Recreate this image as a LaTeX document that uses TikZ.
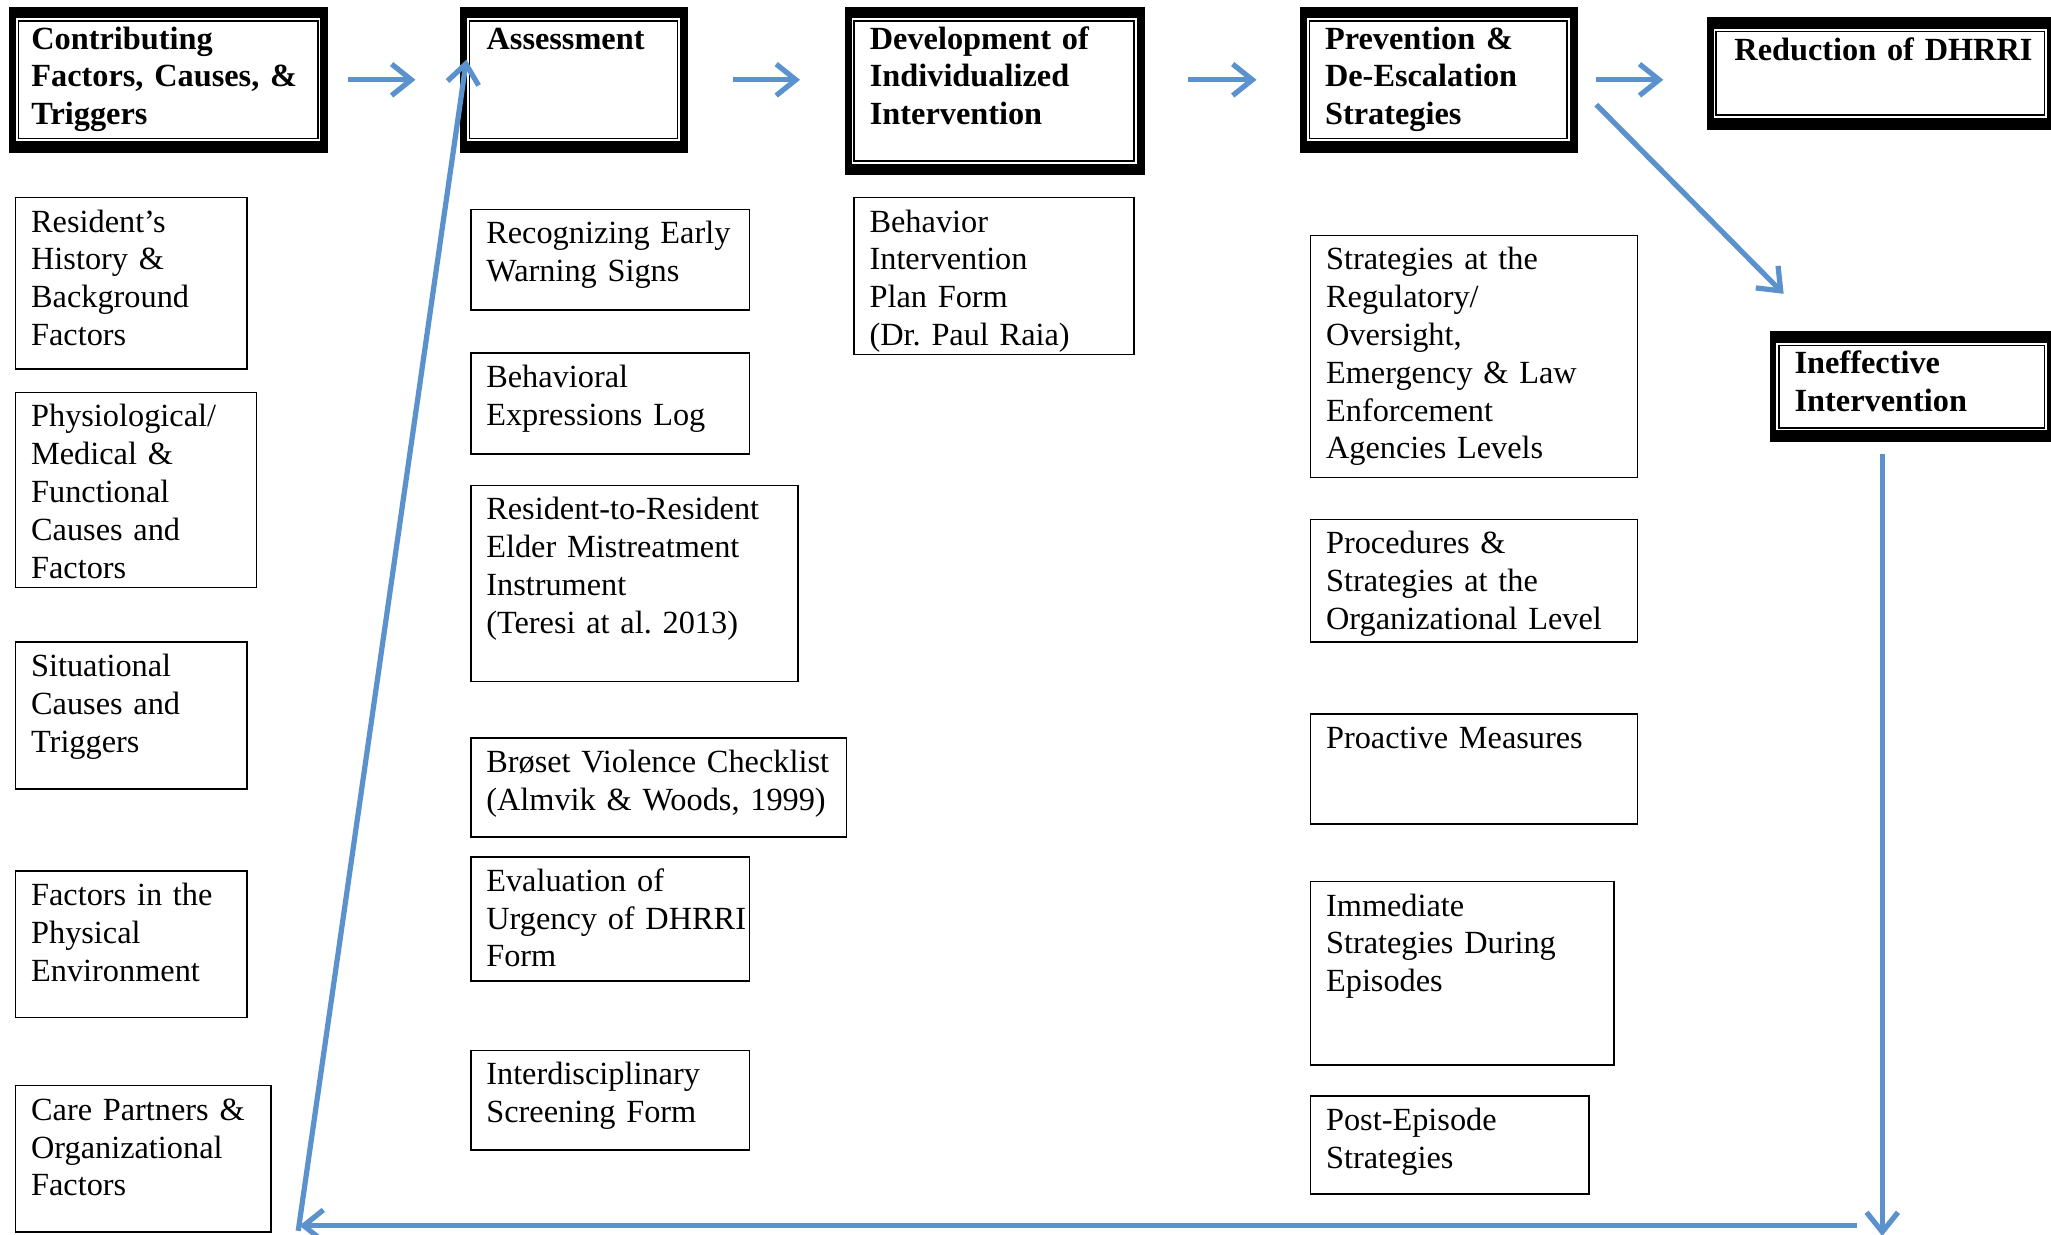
\documentclass[tikz,border=0pt]{standalone}
\usepackage{fontspec}
\setmainfont{Liberation Serif}
\usetikzlibrary{arrows.meta,fit}
\definecolor{arrblue}{RGB}{91,146,205}
\begin{document}
\frenchspacing
\begin{tikzpicture}[x=0.5bp,y=-0.5bp,
  thinbox/.style={draw=black, line width=0.6bp, inner sep=0},
  hdr/.style={inner sep=0, fill=black, path picture={
      \fill[white] ([shift={(5,9)}]path picture bounding box.north west) rectangle ([shift={(-6,-9)}]path picture bounding box.south east);
      \draw[black, line width=0.6bp] ([shift={(7,11)}]path picture bounding box.north west) rectangle ([shift={(-8,-11)}]path picture bounding box.south east);
  }},
  txt/.style={anchor=base west, inner sep=0, align=left, text width=300bp, font=\fontsize{12.4}{14.5}\selectfont},
  htxt/.style={anchor=base west, inner sep=0, align=left, text width=300bp, font=\fontsize{12.4}{14.5}\selectfont\bfseries},
  arr/.style={draw=arrblue, line width=2bp, -{Straight Barb[length=7.5bp,width=12bp]}}
]
\useasboundingbox (0,0) rectangle (1568,944);

% header boxes
\node[hdr, fit={(7,5)(251,117)}] (hC) {};
\node[htxt] (hCt) at ([shift={(17,33)}]hC.north west) {Contributing\\Factors, Causes, \&\\Triggers};
\node[hdr, fit={(352,5)(526,117)}] (hA) {};
\node[htxt] (hAt) at ([shift={(20,33)}]hA.north west) {Assessment};
\node[hdr, fit={(646,5)(875,134)}] (hD) {};
\node[htxt] (hDt) at ([shift={(19,33)}]hD.north west) {Development of\\Individualized\\Intervention};
\node[hdr, fit={(994,5)(1206,117)}] (hP) {};
\node[htxt] (hPt) at ([shift={(19,33)}]hP.north west) {Prevention \&\\De-Escalation\\Strategies};
\node[hdr, fit={(1305,13)(1571,99)}] (hR) {};
\node[htxt] (hRt) at ([shift={(21,34)}]hR.north west) {Reduction of DHRRI};
\node[hdr, fit={(1353,253)(1571,338)}] (hI) {};
\node[htxt] (hIt) at ([shift={(19,33)}]hI.north west) {Ineffective\\Intervention};

% left column
\node[thinbox, fit={(12,151)(189,282)}] (b1) {};
\node[txt] (b1t) at ([shift={(12,27)}]b1.north west) {Resident’s\\History \&\\Background\\Factors};
\node[thinbox, fit={(12,300)(196,449)}] (b2) {};
\node[txt] (b2t) at ([shift={(12,27)}]b2.north west) {Physiological/\\Medical \&\\Functional\\Causes and\\Factors};
\node[thinbox, fit={(12,491)(189,603)}] (b3) {};
\node[txt] (b3t) at ([shift={(12,27)}]b3.north west) {Situational\\Causes and\\Triggers};
\node[thinbox, fit={(12,666)(189,778)}] (b4) {};
\node[txt] (b4t) at ([shift={(12,27)}]b4.north west) {Factors in the\\Physical\\Environment};
\node[thinbox, fit={(12,830)(207,942)}] (b5) {};
\node[txt] (b5t) at ([shift={(12,27)}]b5.north west) {Care Partners \&\\Organizational\\Factors};

% assessment column
\node[thinbox, fit={(360,160)(573,237)}] (a1) {};
\node[txt] (a1t) at ([shift={(12,27)}]a1.north west) {Recognizing Early\\Warning Signs};
\node[thinbox, fit={(360,270)(573,347)}] (a2) {};
\node[txt] (a2t) at ([shift={(12,27)}]a2.north west) {Behavioral\\Expressions Log};
\node[thinbox, fit={(360,371)(610,521)}] (a3) {};
\node[txt] (a3t) at ([shift={(12,27)}]a3.north west) {Resident-to-Resident\\Elder Mistreatment\\Instrument\\(Teresi at al. 2013)};
\node[thinbox, fit={(360,564)(647,640)}] (a4) {};
\node[txt] (a4t) at ([shift={(12,27)}]a4.north west) {Brøset Violence Checklist\\(Almvik \& Woods, 1999)};
\node[thinbox, fit={(360,655)(573,750)}] (a5) {};
\node[txt] (a5t) at ([shift={(12,27)}]a5.north west) {Evaluation of\\Urgency of DHRRI\\Form};
\node[thinbox, fit={(360,803)(573,879)}] (a6) {};
\node[txt] (a6t) at ([shift={(12,27)}]a6.north west) {Interdisciplinary\\Screening Form};

% development column
\node[thinbox, fit={(653,151)(867,271)}] (d1) {};
\node[txt] (d1t) at ([shift={(12,27)}]d1.north west) {Behavior\\Intervention\\Plan Form\\(Dr. Paul Raia)};

% prevention column
\node[thinbox, fit={(1002,180)(1252,365)}] (p1) {};
\node[txt] (p1t) at ([shift={(12,27)}]p1.north west) {Strategies at the\\Regulatory/\\Oversight,\\Emergency \& Law\\Enforcement\\Agencies Levels};
\node[thinbox, fit={(1002,397)(1252,491)}] (p2) {};
\node[txt] (p2t) at ([shift={(12,27)}]p2.north west) {Procedures \&\\Strategies at the\\Organizational Level};
\node[thinbox, fit={(1002,546)(1252,630)}] (p3) {};
\node[txt] (p3t) at ([shift={(12,27)}]p3.north west) {Proactive Measures};
\node[thinbox, fit={(1002,674)(1234,814)}] (p4) {};
\node[txt] (p4t) at ([shift={(12,27)}]p4.north west) {Immediate\\Strategies During\\Episodes};
\node[thinbox, fit={(1002,838)(1215,913)}] (p5) {};
\node[txt] (p5t) at ([shift={(12,27)}]p5.north west) {Post-Episode\\Strategies};

% connectors
\draw[arr, shorten <=7.5bp, shorten >=17bp] (hC.east) -- (hC.east -| hA.west);
\draw[arr, shorten <=17bp, shorten >=17bp] (hA.east) -- (hA.east -| hD.west);
\draw[arr, shorten <=16.5bp, shorten >=16.5bp] (hD.east |- hP.west) -- (hP.west);
\draw[arr, shorten <=7bp, shorten >=16.5bp] (hP.east) -- (hP.east -| hR.west);
\draw[arr] ([shift={(14,19)}]hP.east) -- ([shift={(11,-28)}]hI.north west);
\coordinate (vEnd) at (1439,945);
\coordinate (hStart) at (1420,937);
\coordinate (hEnd) at (229,937);
\coordinate (uStart) at (228,941);
\draw[arr] ([shift={(-23,9)}]hI.south) -- (vEnd);
\draw[arr] (hStart) -- (hEnd);
\draw[arr] (uStart) -- ([shift={(5,41)}]hA.north west);
\end{tikzpicture}
\end{document}
